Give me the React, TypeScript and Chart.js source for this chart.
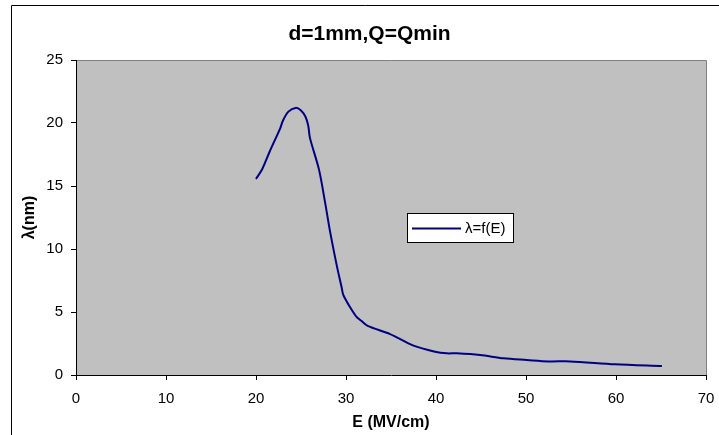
import { useEffect, useRef } from "react";
import { Chart, registerables } from "chart.js";

Chart.register(...registerables);

const chartTitle = "d=1mm,Q=Qmin";
const xAxisTitle = "E (MV/cm)";
const yAxisTitle = "λ(nm)";
const seriesLabel = "λ=f(E)";

const eValues = [
  20.0, 20.7, 21.5, 22.7, 23.0, 23.6, 24.4, 25.0, 25.5, 25.8, 26.0, 27.0, 27.7,
  28.2, 29.0, 29.5, 29.7, 30.3, 31.1, 31.7, 32.4, 34.9, 37.5, 39.9, 41.2, 42.3,
  44.9, 47.5, 50.1, 52.5, 54.9, 59.9, 65.1,
];
const lambdaValues = [
  15.56, 16.35, 17.7, 19.6, 20.2, 20.9, 21.2, 21.0, 20.5, 19.8, 18.8, 16.3, 13.6,
  11.5, 8.6, 7.0, 6.35, 5.56, 4.68, 4.3, 3.9, 3.25, 2.33, 1.85, 1.72, 1.72,
  1.59, 1.32, 1.19, 1.08, 1.08, 0.85, 0.71,
];

const xMin = 0;
const xMax = 70;
const xStep = 10;
const yMin = 0;
const yMax = 25;
const yStep = 5;

const FONT = "'Liberation Sans', Arial, sans-serif";
const LINE_COLOR = "#000080";

const framePlugin = {
  id: "framePlugin",
  beforeDraw(chart: any) {
    const { ctx, chartArea, width, height } = chart;
    ctx.save();
    ctx.fillStyle = "#ffffff";
    ctx.fillRect(0, 0, width, height);
    // outer chart frame (left and top edges visible)
    ctx.strokeStyle = "#000000";
    ctx.lineWidth = 1;
    ctx.beginPath();
    ctx.moveTo(11.5, height);
    ctx.lineTo(11.5, 5.5);
    ctx.lineTo(width, 5.5);
    ctx.stroke();
    // plot area
    ctx.fillStyle = "#c0c0c0";
    ctx.fillRect(
      chartArea.left,
      chartArea.top,
      chartArea.right - chartArea.left,
      chartArea.bottom - chartArea.top
    );
    ctx.strokeStyle = "#808080";
    ctx.beginPath();
    ctx.moveTo(chartArea.left, chartArea.top + 0.5);
    ctx.lineTo(chartArea.right + 0.5, chartArea.top + 0.5);
    ctx.lineTo(chartArea.right + 0.5, chartArea.bottom);
    ctx.stroke();
    // title
    ctx.fillStyle = "#000000";
    ctx.font = `bold 21px ${FONT}`;
    ctx.textAlign = "center";
    ctx.textBaseline = "middle";
    ctx.fillText(chartTitle, (width + 20) / 2, 34);
    ctx.restore();
  },
  afterDraw(chart: any) {
    const { ctx, chartArea } = chart;
    const bx = chartArea.left + 331;
    const by = chartArea.top + 153;
    const bw = 106;
    const bh = 29;
    ctx.save();
    ctx.fillStyle = "#ffffff";
    ctx.fillRect(bx, by, bw, bh);
    ctx.strokeStyle = "#000000";
    ctx.lineWidth = 1;
    ctx.strokeRect(bx + 0.5, by + 0.5, bw, bh);
    ctx.strokeStyle = LINE_COLOR;
    ctx.lineWidth = 2;
    ctx.beginPath();
    ctx.moveTo(bx + 5, by + 15.5);
    ctx.lineTo(bx + 54, by + 15.5);
    ctx.stroke();
    ctx.fillStyle = "#000000";
    ctx.font = `15px ${FONT}`;
    ctx.textAlign = "left";
    ctx.textBaseline = "middle";
    ctx.fillText(chart.data.datasets[0].label, bx + 58, by + 15.5);
    ctx.restore();
  },
};

export default function App() {
  const canvasRef = useRef<HTMLCanvasElement | null>(null);

  useEffect(() => {
    if (!canvasRef.current) return;
    const points = eValues.map((e, i) => ({ x: e, y: lambdaValues[i] }));
    const chart = new Chart(canvasRef.current, {
      type: "line",
      data: {
        datasets: [
          {
            label: seriesLabel,
            data: points,
            borderColor: LINE_COLOR,
            backgroundColor: LINE_COLOR,
            borderWidth: 2,
            pointRadius: 0,
            tension: 0.3,
            fill: false,
          },
        ],
      },
      options: {
        animation: false,
        responsive: false,
        devicePixelRatio: 1,
        layout: { padding: { top: 60, right: 13, left: 0, bottom: 0 } },
        plugins: {
          legend: { display: false },
          title: { display: false },
          tooltip: { enabled: false },
        },
        scales: {
          x: {
            type: "linear",
            min: xMin,
            max: xMax,
            afterFit(scale: any) {
              scale.height = 60;
              scale.paddingLeft = 0;
              scale.paddingRight = 0;
            },
            ticks: {
              stepSize: xStep,
              color: "#000000",
              padding: 10,
              maxRotation: 0,
              font: { family: FONT, size: 15 },
            },
            grid: {
              display: true,
              drawOnChartArea: false,
              drawTicks: true,
              tickLength: 5,
              color: "#000000",
            },
            border: { display: true, color: "#000000", width: 1 },
            title: {
              display: true,
              text: xAxisTitle,
              color: "#000000",
              font: { family: FONT, size: 16, weight: "bold" },
              padding: { top: 0, bottom: 3 },
            },
          },
          y: {
            type: "linear",
            min: yMin,
            max: yMax,
            afterFit(scale: any) {
              scale.width = 76;
              scale.paddingTop = 0;
              scale.paddingBottom = 0;
            },
            ticks: {
              stepSize: yStep,
              color: "#000000",
              padding: 8,
              font: { family: FONT, size: 15 },
            },
            grid: {
              display: true,
              drawOnChartArea: false,
              drawTicks: true,
              tickLength: 5,
              color: "#000000",
            },
            border: { display: true, color: "#000000", width: 1 },
            title: {
              display: true,
              text: yAxisTitle,
              color: "#000000",
              font: { family: FONT, size: 16, weight: "bold" },
              padding: { top: 20, bottom: 0 },
            },
          },
        },
      },
      plugins: [framePlugin],
    });
    return () => chart.destroy();
  }, []);

  return (
    <div
      style={{
        position: "fixed",
        left: 0,
        top: 0,
        width: 719,
        height: 435,
        background: "#ffffff",
      }}
    >
      <canvas ref={canvasRef} width={719} height={435} />
    </div>
  );
}
